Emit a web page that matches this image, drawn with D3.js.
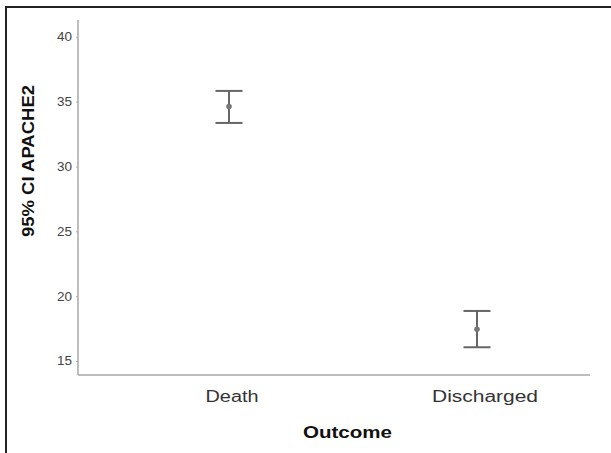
<!DOCTYPE html>
<html>
<head>
<meta charset="utf-8">
<script src="https://cdn.jsdelivr.net/npm/d3@7"></script>
<style>
  body { margin: 0; background: #fff; }
  svg { display: block; font-family: "Liberation Sans", Arial, sans-serif; }
</style>
</head>
<body>
<svg width="611" height="453"></svg>
<script>
// values
var outcomes = ["Death", "Discharged"]
var means = [34.62, 17.45]
var lowerCI = [33.36, 16.06]
var upperCI = [35.83, 18.86]
var yTicks = [15, 20, 25, 30, 35, 40]

var svg = d3.select("svg")

// outer frame (only left and top edges visible)
svg.append("rect")
    .attr("x", 6)
    .attr("y", 7)
    .attr("width", 700)
    .attr("height", 600)
    .attr("fill", "none")
    .attr("stroke", "#222")
    .attr("stroke-width", 2)

var yScale = d3.scaleLinear()
    .domain([13.92, 41.3])
    .range([375, 20])

var xScale = d3.scalePoint()
    .domain(outcomes)
    .range([229, 477])

// y axis
var yAxis = d3.axisLeft(yScale)
    .tickValues(yTicks)
    .tickSize(2)
    .tickPadding(4)

var gy = svg.append("g")
    .attr("transform", "translate(78,0)")
    .call(yAxis)
gy.select(".domain").remove()
gy.selectAll(".tick line").attr("stroke", "#bbb")
gy.selectAll(".tick text")
    .attr("fill", "#444")
    .style("font-size", "12px")
    .attr("textLength", 15)
    .attr("lengthAdjust", "spacingAndGlyphs")

// axis lines
svg.append("line")
    .attr("x1", 78).attr("x2", 78)
    .attr("y1", yScale.range()[1]).attr("y2", 375)
    .attr("stroke", "#a8a8a8")
    .attr("stroke-width", 1.5)
svg.append("line")
    .attr("x1", 78).attr("x2", 590)
    .attr("y1", 375).attr("y2", 375)
    .attr("stroke", "#a8a8a8")
    .attr("stroke-width", 1.5)

// x labels
var labelWidths = {"Death": 53, "Discharged": 106}
svg.selectAll(".xlab")
    .data(outcomes)
    .enter()
    .append("text")
    .attr("class", "xlab")
    .attr("x", function(d) { return xScale(d) + (d == "Death" ? 3 : 8) - labelWidths[d] / 2 })
    .attr("y", 402)
    .attr("fill", "#333")
    .style("font-size", "16px")
    .attr("textLength", function(d) { return labelWidths[d] })
    .attr("lengthAdjust", "spacingAndGlyphs")
    .text(function(d) { return d })

// axis titles
svg.append("text")
    .attr("x", 303)
    .attr("y", 438)
    .attr("fill", "#111")
    .style("font-size", "16px")
    .style("font-weight", "bold")
    .attr("textLength", 89)
    .attr("lengthAdjust", "spacingAndGlyphs")
    .text("Outcome")

svg.append("text")
    .attr("transform", "translate(34,237) rotate(-90)")
    .attr("fill", "#111")
    .style("font-size", "17px")
    .style("font-weight", "bold")
    .attr("textLength", 152)
    .attr("lengthAdjust", "spacingAndGlyphs")
    .text("95% CI APACHE2")

// error bars
var bars = svg.selectAll(".bar")
    .data(outcomes)
    .enter()
    .append("g")
    .attr("class", "bar")

bars.append("line")
    .attr("x1", function(d) { return xScale(d) })
    .attr("x2", function(d) { return xScale(d) })
    .attr("y1", function(d, i) { return yScale(upperCI[i]) })
    .attr("y2", function(d, i) { return yScale(lowerCI[i]) })
    .attr("stroke", "#666")
    .attr("stroke-width", 2)

bars.append("line")
    .attr("x1", function(d) { return xScale(d) - 13.5 })
    .attr("x2", function(d) { return xScale(d) + 13.5 })
    .attr("y1", function(d, i) { return yScale(upperCI[i]) })
    .attr("y2", function(d, i) { return yScale(upperCI[i]) })
    .attr("stroke", "#666")
    .attr("stroke-width", 2)

bars.append("line")
    .attr("x1", function(d) { return xScale(d) - 13.5 })
    .attr("x2", function(d) { return xScale(d) + 13.5 })
    .attr("y1", function(d, i) { return yScale(lowerCI[i]) })
    .attr("y2", function(d, i) { return yScale(lowerCI[i]) })
    .attr("stroke", "#666")
    .attr("stroke-width", 2)

bars.append("circle")
    .attr("cx", function(d) { return xScale(d) })
    .attr("cy", function(d, i) { return yScale(means[i]) })
    .attr("r", 2.8)
    .attr("fill", "#777")
</script>
</body>
</html>
